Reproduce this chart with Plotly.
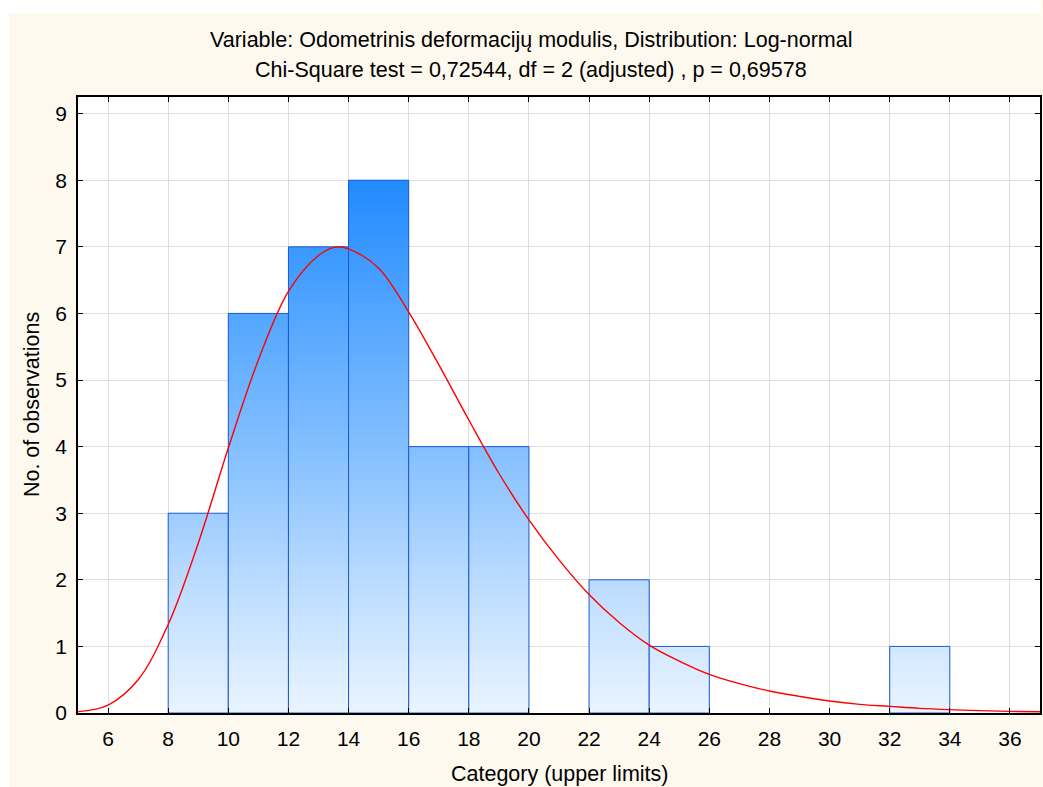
import plotly.graph_objects as go

# Histogram bins (upper limits, width 2) and observed counts
bin_upper = [10, 12, 14, 16, 18, 20, 22, 24, 26, 28, 30, 32, 34]
counts = [3, 6, 7, 8, 4, 4, 0, 2, 1, 0, 0, 0, 1]
bin_width = 2

# Fitted log-normal curve (expected counts per bin)
fit_x = [5, 6, 7, 8, 9, 10, 11, 12, 13, 13.6, 14, 15, 16, 17, 18, 19, 20, 21, 22, 23,
         24, 25, 26, 27, 28, 29, 30, 31, 32, 33, 34, 35, 36, 37]
fit_y = [0.02, 0.12, 0.5, 1.33, 2.55, 3.98, 5.3, 6.33, 6.87, 7.0, 6.97, 6.68, 6.02, 5.23,
         4.4, 3.6, 2.9, 2.3, 1.78, 1.36, 1.02, 0.78, 0.58, 0.44, 0.33, 0.25, 0.18, 0.13,
         0.1, 0.07, 0.05, 0.035, 0.025, 0.018]

x_ticks = list(range(6, 37, 2))
y_ticks = list(range(0, 10))

title_line1 = "Variable: Odometrinis deformacijų modulis, Distribution: Log-normal"
title_line2 = "Chi-Square test = 0,72544, df = 2 (adjusted) , p = 0,69578"
x_title = "Category (upper limits)"
y_title = "No. of observations"

FONT = "Liberation Sans, Arial, sans-serif"
CREAM = "#FEF9EF"
BAR_EDGE = "#1B58D4"
bar_scale = [[0.0, "#EAF4FF"], [0.25, "#BADBFF"], [0.5, "#82BFFF"],
             [0.75, "#52A6FF"], [1.0, "#208AFF"]]
TITLE_SIZE = 21.5
TICK_SIZE = 21

fig = go.Figure()

# Bars as filled polygons so they can carry a vertical gradient shared across all bars
for up, c in zip(bin_upper, counts):
    if c == 0:
        continue
    lo = up - bin_width
    fig.add_trace(go.Scatter(
        x=[lo, lo, up, up, lo], y=[0, c, c, 0, 0],
        mode="lines", fill="toself",
        line=dict(color=BAR_EDGE, width=1),
        fillgradient=dict(type="vertical", colorscale=bar_scale,
                          start=0, stop=max(counts)),
        hoverinfo="skip", showlegend=False,
    ))

fig.add_trace(go.Scatter(
    x=fit_x, y=fit_y, mode="lines",
    line=dict(color="#FF0000", width=1.4, shape="spline", smoothing=1.0),
    showlegend=False,
))

W, H = 1043, 787
L, R, T, B = 78, 1, 97, 74
pw, ph = W - L - R, H - T - B


def px_to_paper_x(px):
    return (px - L) / pw


def px_to_paper_y(py):
    return (H - B - py) / ph


fig.update_layout(
    width=W, height=H,
    margin=dict(l=L, r=R, t=T, b=B),
    paper_bgcolor=CREAM, plot_bgcolor="white",
    font=dict(family=FONT, color="#000000", size=TITLE_SIZE),
    shapes=[
        # white strips along the top and left edges of the page
        dict(type="rect", xref="paper", yref="paper", layer="below",
             x0=px_to_paper_x(0), x1=px_to_paper_x(W), y0=px_to_paper_y(13), y1=px_to_paper_y(0),
             fillcolor="white", line=dict(width=0)),
        dict(type="rect", xref="paper", yref="paper", layer="below",
             x0=px_to_paper_x(0), x1=px_to_paper_x(9), y0=px_to_paper_y(H), y1=px_to_paper_y(0),
             fillcolor="white", line=dict(width=0)),
    ],
    annotations=[
        dict(text=title_line1, xref="paper", yref="paper", x=px_to_paper_x(532),
             y=px_to_paper_y(40), xanchor="center", yanchor="middle", showarrow=False,
             font=dict(size=TITLE_SIZE)),
        dict(text=title_line2, xref="paper", yref="paper", x=px_to_paper_x(532),
             y=px_to_paper_y(70), xanchor="center", yanchor="middle", showarrow=False,
             font=dict(size=TITLE_SIZE)),
        dict(text=x_title, xref="paper", yref="paper", x=px_to_paper_x(560),
             y=px_to_paper_y(774), xanchor="center", yanchor="middle", showarrow=False,
             font=dict(size=TITLE_SIZE)),
        dict(text=y_title, xref="paper", yref="paper", x=px_to_paper_x(32),
             y=px_to_paper_y(405), xanchor="center", yanchor="middle", showarrow=False,
             textangle=-90, font=dict(size=TITLE_SIZE)),
    ],
)

axis_common = dict(
    showline=True, linecolor="#000000", linewidth=1.5, mirror="ticks",
    ticks="inside", ticklen=5, tickcolor="#000000", tickwidth=1,
    showgrid=True, gridcolor="#DDDDDD", gridwidth=1,
    zeroline=False, tickfont=dict(size=TICK_SIZE, family=FONT),
)

fig.update_xaxes(range=[5, 37], tickvals=x_ticks, ticktext=[str(v) for v in x_ticks],
                 ticklabelstandoff=6, **axis_common)
fig.update_yaxes(range=[0, 9.25], tickvals=y_ticks, ticktext=[str(v) for v in y_ticks],
                 ticklabelstandoff=5, **axis_common)

fig.write_html("out.html")
